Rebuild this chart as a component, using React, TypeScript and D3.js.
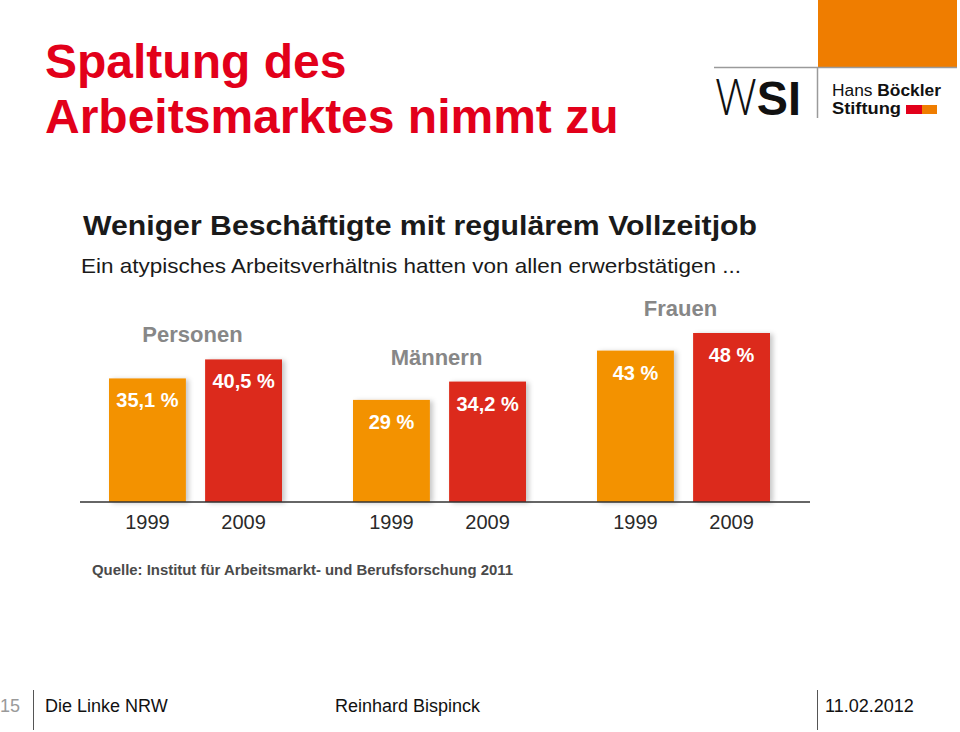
import React from "react";
import * as d3 from "d3";

const groups = ["Personen", "Männern", "Frauen"];
const years = ["1999", "2009"];
const values1999 = [35.1, 29, 43];
const values2009 = [40.5, 34.2, 48];
const labels1999 = ["35,1 %", "29 %", "43 %"];
const labels2009 = ["40,5 %", "34,2 %", "48 %"];

const ORANGE = "#f39200";
const RED = "#dc2a1b";

export default function App() {
  const baseY = 502;
  const y = d3.scaleLinear().domain([0, 48]).range([baseY, 333]);
  const xGroup = d3.scaleBand<string>().domain(groups).range([73.5, 805.5]).padding(0);
  const xYear = d3
    .scaleBand<string>()
    .domain(years)
    .range([35.5, 208.5])
    .paddingInner(0.2)
    .paddingOuter(0);
  const bw = xYear.bandwidth();

  const series = [
    { year: "1999", values: values1999, labels: labels1999, color: ORANGE },
    { year: "2009", values: values2009, labels: labels2009, color: RED },
  ];

  const font = "'Liberation Sans', Arial, Helvetica, sans-serif";

  return (
    <svg
      width={960}
      height={732}
      style={{ position: "absolute", left: 0, top: 0, background: "#fff" }}
      fontFamily={font}
    >
      <defs>
        <filter id="sh" x="-20%" y="-20%" width="150%" height="140%">
          <feDropShadow dx="3" dy="1" stdDeviation="2.5" floodColor="#000" floodOpacity="0.22" />
        </filter>
      </defs>
      <rect x={0} y={0} width={960} height={732} fill="#fff" />

      {/* Slide title */}
      <text x={45} y={78} fill="#e2001a" fontSize={48} fontWeight="bold">
        Spaltung des
      </text>
      <text x={45} y={133} fill="#e2001a" fontSize={48} fontWeight="bold">
        Arbeitsmarktes nimmt zu
      </text>

      {/* Logo */}
      <rect x={818} y={0} width={139} height={67} fill="#ef7d00" />
      <line x1={714} x2={957} y1={67.5} y2={67.5} stroke="#9a9a9a" strokeWidth={1.5} />
      <line x1={817.5} x2={817.5} y1={67} y2={118} stroke="#9a9a9a" strokeWidth={1.5} />
      <text x={715} y={115} fontSize={49} fill="#111" textLength={86} lengthAdjust="spacingAndGlyphs">
        <tspan fontWeight="300" fontFamily="'Open Sans', 'Liberation Sans', sans-serif">W</tspan>
        <tspan fontWeight="bold">SI</tspan>
      </text>
      <text x={832} y={96} fontSize={16} fill="#111" textLength={109} lengthAdjust="spacingAndGlyphs">
        <tspan>Hans </tspan>
        <tspan fontWeight="bold">Böckler</tspan>
      </text>
      <text x={832} y={114} fontSize={16} fontWeight="bold" fill="#111" textLength={69} lengthAdjust="spacingAndGlyphs">
        Stiftung
      </text>
      <rect x={906} y={105} width={16} height={9} fill="#e2001a" />
      <rect x={922} y={105} width={15} height={9} fill="#ef7d00" />

      {/* Chart title */}
      <text x={83} y={235} fontSize={28} fontWeight="bold" fill="#1a1a1a" textLength={674} lengthAdjust="spacingAndGlyphs">
        Weniger Beschäftigte mit regulärem Vollzeitjob
      </text>
      <text x={81} y={273} fontSize={21} fill="#1a1a1a" textLength={660} lengthAdjust="spacingAndGlyphs">
        Ein atypisches Arbeitsverhältnis hatten von allen erwerbstätigen ...
      </text>

      {/* Bars */}
      {groups.map((g, gi) => {
        const gx = xGroup(g)!;
        const maxV = Math.max(values1999[gi], values2009[gi]);
        const cx = gx + (xYear("1999")! + xYear("2009")! + bw) / 2;
        return (
          <g key={g}>
            <text
              x={cx - 3}
              y={y(maxV) - 17}
              textAnchor="middle"
              fontSize={22}
              fontWeight="bold"
              fill="#878787"
            >
              {g}
            </text>
            {series.map((s) => {
              const bx = gx + xYear(s.year)!;
              const v = s.values[gi];
              return (
                <g key={s.year}>
                  <rect
                    x={bx}
                    y={y(v)}
                    width={bw}
                    height={baseY - y(v)}
                    fill={s.color}
                    filter="url(#sh)"
                  />
                  <text
                    x={bx + bw / 2}
                    y={y(v) + 29}
                    textAnchor="middle"
                    fontSize={20}
                    fontWeight="bold"
                    fill="#fff"
                  >
                    {s.labels[gi]}
                  </text>
                  <text
                    x={bx + bw / 2}
                    y={529}
                    textAnchor="middle"
                    fontSize={20}
                    fill="#2a2a2a"
                  >
                    {s.year}
                  </text>
                </g>
              );
            })}
          </g>
        );
      })}
      <line x1={80} x2={810} y1={baseY} y2={baseY} stroke="#333" strokeWidth={1.5} />

      {/* Source */}
      <text x={92} y={575} fontSize={15} fontWeight="bold" fill="#4a4a4a" textLength={421} lengthAdjust="spacingAndGlyphs">
        Quelle: Institut für Arbeitsmarkt- und Berufsforschung 2011
      </text>

      {/* Footer */}
      <text x={0} y={712} fontSize={18} fill="#9a9a9a">15</text>
      <line x1={33.5} x2={33.5} y1={690} y2={730} stroke="#555" strokeWidth={1} />
      <text x={45} y={712} fontSize={18} fill="#111">Die Linke NRW</text>
      <text x={335} y={712} fontSize={18} fill="#111">Reinhard Bispinck</text>
      <line x1={817.5} x2={817.5} y1={690} y2={730} stroke="#555" strokeWidth={1} />
      <text x={825} y={712} fontSize={18} fill="#111">11.02.2012</text>
    </svg>
  );
}
